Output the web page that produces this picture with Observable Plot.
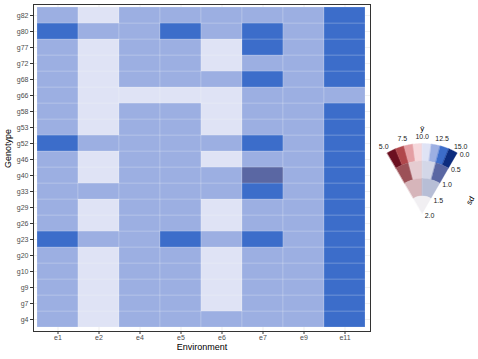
<!DOCTYPE html>
<html><head><meta charset="utf-8">
<script src="https://cdn.jsdelivr.net/npm/d3@7"></script>
<script src="https://cdn.jsdelivr.net/npm/@observablehq/plot@0.6"></script>
<style>
body{margin:0;background:#fff}
#wrap{position:relative;width:478px;height:359px;overflow:hidden}
#wrap svg{position:absolute}
</style>
</head><body><div id="wrap"></div>
<script>
// categories
const environments = ["e1","e2","e4","e5","e6","e7","e9","e11"];
const genotypes = ["g4","g7","g9","g10","g20","g23","g26","g29","g33","g40","g46","g52","g53","g58","g66","g68","g72","g77","g80","g82"];
// predicted values (yhat), rows follow genotypes, columns follow environments
const yhat = [
  [11.9,10.6,11.8,11.9,11.7,11.9,11.8,13.1],
  [11.9,10.5,11.8,11.9,10.9,11.9,11.8,13.1],
  [11.9,10.5,11.8,11.9,10.9,11.9,11.8,13.1],
  [11.9,10.5,11.8,11.9,10.9,11.9,11.8,13.1],
  [11.9,10.5,11.8,11.9,10.9,11.9,11.8,13.1],
  [13.0,11.6,11.8,12.9,11.7,13.0,11.8,13.2],
  [11.9,10.6,11.8,11.9,10.9,11.9,11.8,13.1],
  [11.9,10.6,11.8,11.9,10.9,11.9,11.8,13.1],
  [11.9,11.5,11.8,11.9,11.7,12.9,11.8,13.1],
  [11.9,10.7,11.8,11.9,11.6,13.4,11.8,13.1],
  [11.9,10.6,11.8,11.9,10.9,11.9,11.8,13.1],
  [13.0,11.6,11.8,11.9,11.7,13.0,11.8,13.2],
  [11.9,10.6,11.8,11.9,10.9,11.9,11.8,13.1],
  [11.9,10.6,11.8,11.9,10.9,11.9,11.8,13.1],
  [11.6,10.4,11.1,11.0,10.8,11.6,11.7,12.3],
  [11.9,10.7,11.8,11.9,11.6,12.9,11.8,13.1],
  [11.9,10.6,11.8,11.9,10.9,11.9,11.8,13.1],
  [11.9,10.6,11.8,11.9,10.9,12.9,11.8,13.1],
  [13.0,11.6,11.8,12.9,11.7,13.0,11.8,13.2],
  [11.9,10.8,11.8,11.9,11.7,12.0,11.8,13.1]
];
// standard deviations, same layout
const sdv = [
  [0.30,0.32,0.28,0.30,0.31,0.30,0.28,0.30],
  [0.30,0.32,0.28,0.30,0.31,0.30,0.28,0.30],
  [0.30,0.32,0.28,0.30,0.31,0.30,0.28,0.30],
  [0.30,0.32,0.28,0.30,0.31,0.30,0.28,0.30],
  [0.30,0.32,0.28,0.30,0.31,0.30,0.28,0.30],
  [0.33,0.32,0.28,0.33,0.31,0.34,0.28,0.30],
  [0.30,0.32,0.28,0.30,0.31,0.30,0.28,0.30],
  [0.30,0.32,0.28,0.30,0.31,0.30,0.28,0.30],
  [0.30,0.35,0.28,0.30,0.31,0.40,0.28,0.30],
  [0.30,0.32,0.28,0.30,0.31,0.70,0.28,0.30],
  [0.30,0.32,0.28,0.30,0.31,0.30,0.28,0.30],
  [0.33,0.32,0.28,0.30,0.31,0.34,0.28,0.30],
  [0.30,0.32,0.28,0.30,0.31,0.30,0.28,0.30],
  [0.30,0.32,0.28,0.30,0.31,0.30,0.28,0.30],
  [0.32,0.32,0.30,0.30,0.31,0.30,0.28,0.33],
  [0.30,0.32,0.28,0.30,0.31,0.38,0.28,0.30],
  [0.30,0.32,0.28,0.30,0.31,0.30,0.28,0.30],
  [0.30,0.32,0.28,0.30,0.31,0.38,0.28,0.30],
  [0.33,0.32,0.28,0.33,0.31,0.34,0.28,0.30],
  [0.30,0.32,0.28,0.30,0.31,0.30,0.28,0.30]
];
// legend ticks
const yhatTicks = [5, 7.5, 10, 12.5, 15];
const sdTicks = [0, 0.5, 1, 1.5, 2];
// VSUP palette: ring 0 (sd 0-0.5) outermost ... ring 3 (sd 1.5-2) centre
const ringColors = [
  ["#6b1020","#b0474b","#e49fa4","#f6d8dc","#dfe3f5","#9cafe2","#3c6dca","#0c2c7e"],
  ["#9c5157","#e5ccd1","#d3d7e8","#5a67a3"],
  ["#d6b5ba","#b7bed6"],
  ["#f1eff2"]
];

const YMIN = 5, YMAX = 15, SDMAX = 2;
function binKey(v, s) {
  const i = Math.max(0, Math.min(3, Math.floor(s / 0.5)));
  const n = 8 >> i;
  const j = Math.max(0, Math.min(n - 1, Math.floor((v - YMIN) / (YMAX - YMIN) * n)));
  return i + "-" + j;
}
const keys = [], colors = [];
ringColors.forEach((ring, i) => ring.forEach((c, j) => { keys.push(i + "-" + j); colors.push(c); }));

const cells = [];
genotypes.forEach((g, r) => environments.forEach((e, c) => {
  cells.push({genotype: g, environment: e, yhat: yhat[r][c], sd: sdv[r][c], key: binKey(yhat[r][c], sdv[r][c])});
}));

const font = "'Liberation Sans', Arial, Helvetica, sans-serif";
const wrap = document.getElementById("wrap");

const main = Plot.plot({
  width: 478, height: 359,
  marginLeft: 33, marginRight: 108, marginTop: 4, marginBottom: 28,
  style: {fontFamily: font, background: "white"},
  x: {type: "band", domain: environments, range: [37.11, 365.89], padding: 0, axis: null},
  y: {type: "band", domain: genotypes.slice().reverse(), range: [5.62, 329.38], padding: 0, axis: null},
  color: {type: "ordinal", domain: keys, range: colors},
  marks: [
    Plot.gridX({stroke: "#ebebeb", strokeOpacity: 1, strokeWidth: 0.8}),
    Plot.gridY({stroke: "#ebebeb", strokeOpacity: 1, strokeWidth: 0.8}),
    Plot.cell(cells, {x: "environment", y: "genotype", fill: "key", stroke: "white", strokeOpacity: 0.3, strokeWidth: 0.6}),
    Plot.frame({stroke: "#333", strokeWidth: 1}),
    Plot.axisX({tickSize: 3, tickPadding: 1, fontSize: 7, fill: "#4d4d4d", stroke: "#333", label: null}),
    Plot.axisY({tickSize: 3, tickPadding: 2, fontSize: 7, fill: "#4d4d4d", stroke: "#333", label: null}),
    Plot.text(["Environment"], {frameAnchor: "bottom", dy: 18, fontSize: 9, fill: "black"}),
    Plot.text(["Genotype"], {frameAnchor: "left", dx: -25, rotate: -90, fontSize: 9, fill: "black"})
  ]
});
main.style.left = "0px"; main.style.top = "0px";
wrap.appendChild(main);

// legend fan
const PX = 35; // pixels per unit of radius (2 units = full fan)
const LW = 108, LH = 115, AX = 51.7, AY = 103;
const theta = v => (v - 10) / 5 * Math.PI / 6;
const fanPts = [];
ringColors.forEach((ring, i) => {
  const n = ring.length;
  const rOut = SDMAX - i * 0.5, rIn = SDMAX - (i + 1) * 0.5;
  ring.forEach((c, j) => {
    const v0 = YMIN + j * (YMAX - YMIN) / n, v1 = YMIN + (j + 1) * (YMAX - YMIN) / n;
    const key = i + "-" + j;
    const steps = 12;
    for (let k = 0; k <= steps; k++) {
      const t = theta(v0 + (v1 - v0) * k / steps);
      fanPts.push({key, x: rOut * Math.sin(t), y: rOut * Math.cos(t)});
    }
    for (let k = steps; k >= 0; k--) {
      const t = theta(v0 + (v1 - v0) * k / steps);
      fanPts.push({key, x: rIn * Math.sin(t), y: rIn * Math.cos(t)});
    }
  });
});
const RL = 2.2;
const legend = Plot.plot({
  width: LW, height: LH,
  margin: 0,
  style: {fontFamily: font, background: "none", overflow: "visible"},
  x: {type: "linear", domain: [-AX / PX, (LW - AX) / PX], range: [0, LW], axis: null},
  y: {type: "linear", domain: [-(LH - AY) / PX, AY / PX], range: [LH, 0], axis: null},
  color: {type: "ordinal", domain: keys, range: colors},
  marks: [
    Plot.line(fanPts, {x: "x", y: "y", z: "key", fill: "key", stroke: "key", strokeWidth: 0.4, curve: "linear-closed"}),
    Plot.text(yhatTicks, {x: d => RL * Math.sin(theta(d)), y: d => RL * Math.cos(theta(d)), text: d => d.toFixed(1), fontSize: 7, fill: "#222"}),
    Plot.text(sdTicks, {x: d => (SDMAX - d) * Math.sin(Math.PI / 6), y: d => (SDMAX - d) * Math.cos(Math.PI / 6), text: d => d.toFixed(1), textAnchor: "start", dx: 2.5, dy: 2, fontSize: 7, fill: "#222"}),
    Plot.text(["ŷ"], {x: () => 0, y: () => 2.42, fontSize: 8, fill: "black"}),
    Plot.text(["sd"], {x: () => 1.38, y: () => 0.37, rotate: -60, fontSize: 8, fill: "black"})
  ]
});
legend.style.left = "370px"; legend.style.top = "110px";
wrap.appendChild(legend);
</script>
</body></html>
